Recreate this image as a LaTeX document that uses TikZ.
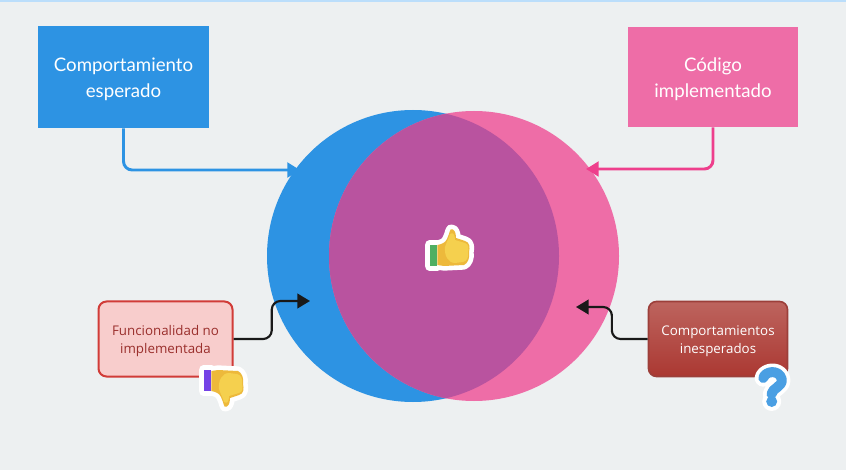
\documentclass[tikz,border=0pt]{standalone}
\usepackage{fontspec}
\setmainfont{Lato}
\newfontfamily\smallfont{Open Sans}
\usepackage{tikz}
\usetikzlibrary{arrows.meta,calc,positioning}
\definecolor{pagebg}{HTML}{EDF0F1}
\definecolor{topline}{HTML}{BBDEFB}
\definecolor{bluefill}{HTML}{2D93E3}
\definecolor{pinkfill}{HTML}{EE6DA7}
\definecolor{pinkline}{HTML}{EE3F8C}
\definecolor{overlapfill}{HTML}{B9539F}
\definecolor{redfill}{HTML}{F8CDCC}
\definecolor{redline}{HTML}{D13C38}
\definecolor{redtext}{HTML}{9A2F2C}
\definecolor{darktop}{HTML}{BD645E}
\definecolor{darkbot}{HTML}{AB3832}
\definecolor{darkline}{HTML}{9C3F3A}
\definecolor{cuffgreen}{HTML}{4FAF62}
\definecolor{cuffpurple}{HTML}{7442E6}
\definecolor{handlight}{HTML}{F5D04E}
\definecolor{handdark}{HTML}{EDB93B}
\definecolor{quest}{HTML}{4A9FE3}
\newcommand{\handpath}{(-12.7,-5) .. controls (-8,-6) and (-5,-7) .. (-3,-11) .. controls (-1,-14) and (-1,-18) .. (0.7,-20.7) .. controls (4,-21.5) and (6,-18) .. (6,-12) -- (15,-9) .. controls (20,-8) and (20,-2) .. (19,2) .. controls (20,8) and (18,13) .. (14,15) -- (-6,16) -- (-12.7,15) -- cycle}
\newcommand{\questpath}{(763.3,378) .. controls (765,371) and (779,369) .. (781.7,379) .. controls (783,387) and (772,388) .. (771.5,394)}
\newcommand{\toplift}[1]{\rule{0pt}{#1}}
\tikzset{bigbox/.style={minimum height=76.5pt,align=center,text=white,font=\fontsize{14pt}{19.5pt}\selectfont},
  smallbox/.style={rounded corners=6pt,minimum height=56.25pt,align=center,font=\smallfont\fontsize{10pt}{13.2pt}\selectfont},
  venn/.style={circle,inner sep=0pt},
  arr/.style={-{Triangle[length=9.5pt,width=11pt]},rounded corners=6.5pt,line join=round},
  halo/.style={draw=white,fill=white,line width=7pt,line join=round,line cap=round},
  thumb/.pic={
    \path[halo] \handpath;
    \path[halo] (-20.5,-5) rectangle (-12.7,16);
    \fill[pic actions] (-20.5,-5) rectangle (-12.7,16);
    \fill[handdark] \handpath;
    \fill[handlight] (-5,-3) .. controls (-3,-9) and (-1,-12) .. (0,-16) .. controls (3,-18) and (5,-16) .. (5,-10) -- (15,-7) .. controls (19,-6) and (19,-1) .. (18,2) .. controls (19,7) and (17,11) .. (13,12) -- (5,13) .. controls (-2,13) and (-6,5) .. (-5,-3) -- cycle;
  }}
\begin{document}
\begin{tikzpicture}[x=0.75pt,y=-0.75pt]
\useasboundingbox (0,0) rectangle (846,470);
\fill[pagebg] (0,0) rectangle (846,470);
\fill[topline] (0,0) rectangle (846,2);
% circles
\node[venn,minimum size=219pt,fill=bluefill] (esperado) at (413,256) {};
\node[venn,minimum size=217.5pt,fill=pinkfill,path picture={\fill[overlapfill] (esperado.center) circle (146);}] (codigo) at (474,256) {};
% boxes
\node[bigbox,minimum width=128.25pt,fill=bluefill] (comp) at (123.5,77) {\toplift{13pt}Comportamiento\\esperado};
\node[bigbox,minimum width=127.5pt,minimum height=75pt,fill=pinkfill] (impl) at (713,77) {\toplift{13pt}Código\\implementado};
\node[smallbox,minimum width=100.5pt,fill=redfill,draw=redline,line width=1.5pt,text=redtext] (func) at (165.5,339) {\toplift{10.5pt}Funcionalidad no\\implementada};
\node[smallbox,minimum width=104.25pt,top color=darktop,bottom color=darkbot,draw=darkline,line width=1.2pt,text=white] (ines) at (718,339) {\toplift{10.5pt}Comportamientos\\inesperados};
% arrow ends
\coordinate (tipa) at (300,170);
\coordinate (tipb) at (586,169);
\coordinate (tipc) at (310,301);
\coordinate (tipd) at (576,307);
\draw[arr,line width=2.2pt,bluefill] (comp.south) |- (tipa);
\draw[arr,line width=2.2pt,pinkline] (impl.south) |- (tipb);
\draw[arr,line width=1.6pt,black!90] (func.east) -| ($(func.east)!.5!(tipc)$) |- (tipc);
\draw[arr,line width=1.6pt,black!90] (ines.west) -| ($(ines.west)!.5!(tipd)$) |- (tipd);
% stickers
\pic[fill=cuffgreen] at (450,250) {thumb};
\pic[fill=cuffpurple,yscale=-1] at (224,386) {thumb};
\draw[white,line width=13pt,line cap=round,line join=round] \questpath;
\fill[white] (771.7,401.5) circle (9.5);
\draw[quest,line width=7.5pt,line cap=round,line join=round] \questpath;
\fill[quest] (771.7,401.5) circle (5.5);
\end{tikzpicture}
\end{document}
